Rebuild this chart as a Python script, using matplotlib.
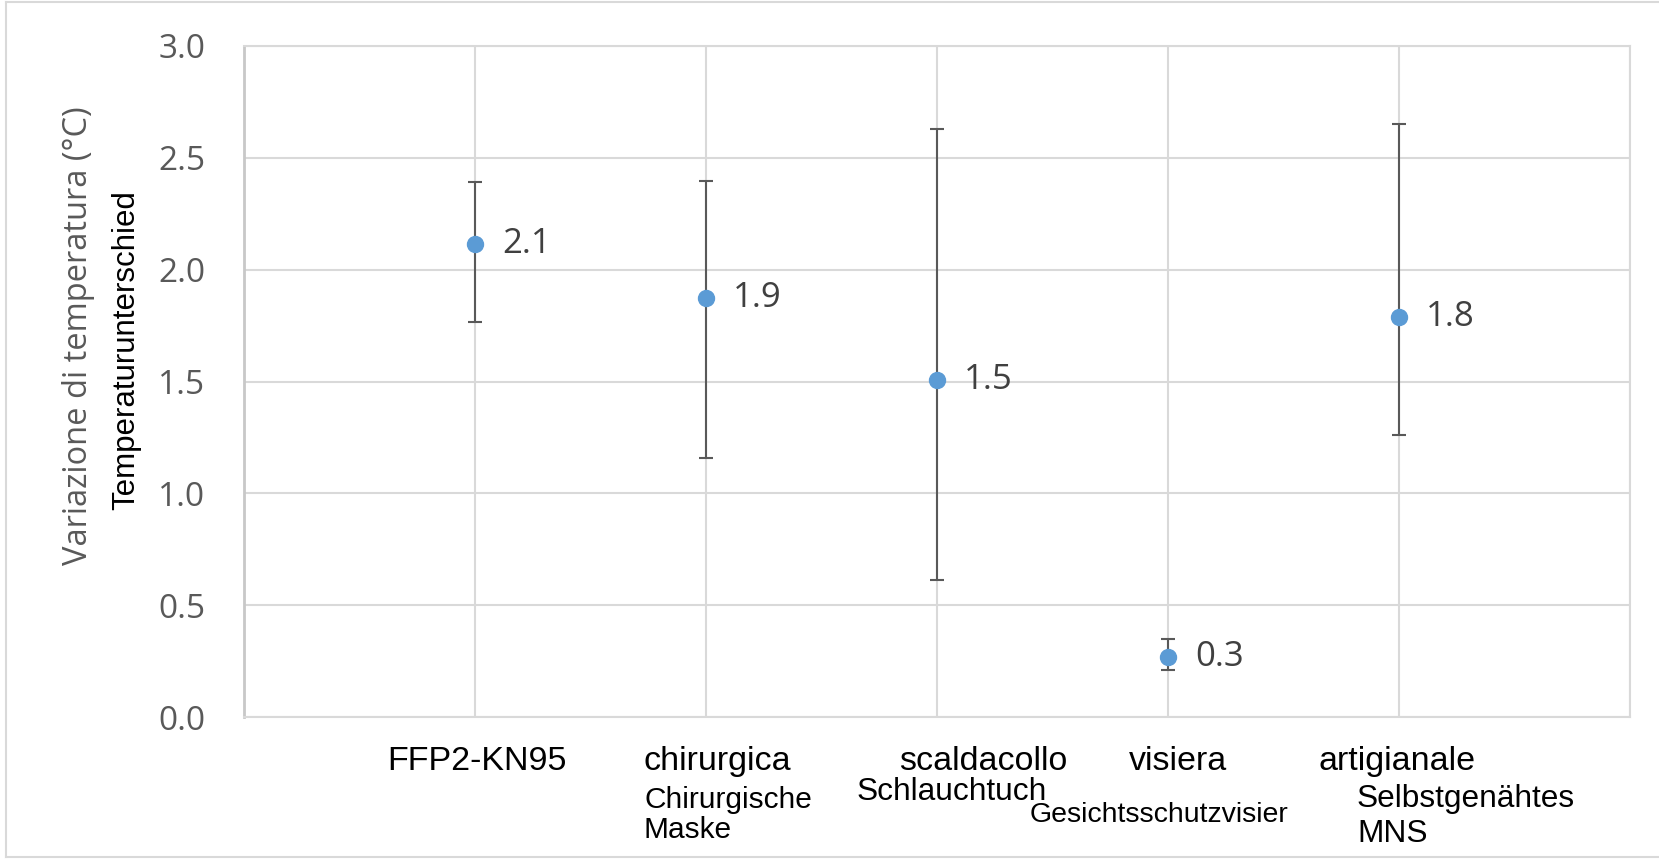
import matplotlib.pyplot as plt
from matplotlib.lines import Line2D

W, H = 1659, 859

categories = ["FFP2-KN95", "chirurgica", "scaldacollo", "visiera", "artigianale"]
means = [2.114, 1.873, 1.506, 0.27, 1.788]
err_low = [1.766, 1.158, 0.612, 0.21, 1.26]
err_high = [2.39, 2.396, 2.63, 0.35, 2.65]
german_lines = ["Chirurgische", "Maske", "Schlauchtuch", "Gesichtsschutzvisier", "Selbstgenähtes", "MNS"]
yticks = [0.0, 0.5, 1.0, 1.5, 2.0, 2.5, 3.0]

# label placement in pixels (left/center x, baseline y) and font sizes
cat_x = [477, 717, 983, 1178, 1397]
ger_pos = [(644, 808, 21.5), (644, 838, 21.5), (857, 800, 22.8),
           (1030, 822, 20.5), (1357, 807, 22.8), (1357, 842, 22.8)]

GRID = "#D9D9D9"
GRAY = "#595959"


def px(x, y):
    return x / W, 1 - y / H


fig = plt.figure(figsize=(W / 100, H / 100), dpi=100)
ax = fig.add_axes([244 / W, 1 - 717 / H, (1630 - 244) / W, (717 - 46) / H])

xs = list(range(1, len(categories) + 1))
yerr = [[m - lo for m, lo in zip(means, err_low)],
        [hi - m for m, hi in zip(means, err_high)]]
ax.errorbar(xs, means, yerr=yerr, fmt="o", color="#5B9BD5", ms=11.5,
            ecolor=GRAY, elinewidth=1.5, capsize=5, capthick=1.5, zorder=3)

for x, m in zip(xs, means):
    ax.annotate(f"{m:.1f}", (x, m), xytext=(19.5, 0), textcoords="offset points",
                va="center", ha="left", fontsize=25, color="#404040", family="Open Sans")

ax.set_xlim(0, 6)
ax.set_ylim(0, 3)
ax.set_xticks(range(7))
ax.set_xticklabels([])
ax.set_yticks(yticks)
ax.set_yticklabels([f"{t:.1f}" for t in yticks], family="Open Sans", fontsize=24, color=GRAY)
ax.tick_params(length=0, pad=28)
ax.grid(True, color=GRID, linewidth=1.5)
ax.set_axisbelow(True)
for s in ax.spines.values():
    s.set_color(GRID)
    s.set_linewidth(1.5)
ax.spines["left"].set_color("#C8C8C8")
ax.spines["left"].set_linewidth(2)

# y axis titles
fig.text(*px(79, 336), "Variazione di temperatura (°C)", rotation=90, ha="center", va="center",
         family="Open Sans", fontsize=23.5, color=GRAY)
fig.text(*px(126, 350), "Temperaturunterschied", rotation=90, ha="center", va="center",
         family="Liberation Sans", fontsize=22.5, color="black")

# category labels
for name, x in zip(categories, cat_x):
    fig.text(*px(x, 770), name, ha="center", va="baseline",
             family="Liberation Sans", fontsize=24.5, color="black")
for txt, (x, y, fs) in zip(german_lines, ger_pos):
    fig.text(*px(x, y), txt, ha="left", va="baseline",
             family="Liberation Sans", fontsize=fs, color="black")

# outer chart frame (right side is cut off in the original)
for (x0, y0), (x1, y1) in [((6, 2), (6, 857)), ((6, 2), (1665, 2)), ((6, 857), (1665, 857))]:
    fig.add_artist(Line2D([x0 / W, x1 / W], [1 - y0 / H, 1 - y1 / H],
                          transform=fig.transFigure, color=GRID, linewidth=1.5))

fig.savefig("out.png", dpi=100)
